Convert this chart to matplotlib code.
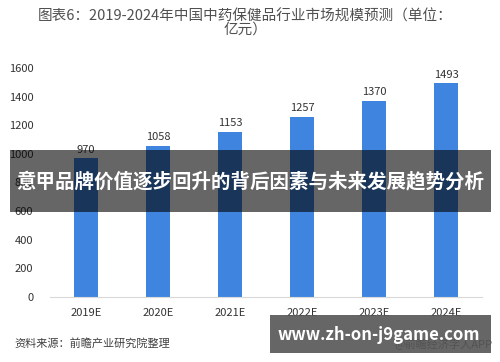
import matplotlib
matplotlib.use("Agg")
import matplotlib.pyplot as plt
from matplotlib.patches import Rectangle

plt.rcParams['font.family'] = ['Noto Sans CJK SC', 'DejaVu Sans']

years = ['2019E', '2020E', '2021E', '2022E', '2023E', '2024E']
values = [970, 1058, 1153, 1257, 1370, 1493]
yticks = [0, 200, 400, 600, 800, 1000, 1200, 1400, 1600]

title = '图表6：2019-2024年中国中药保健品行业市场规模预测（单位：\n亿元）'
source = '资料来源：前瞻产业研究院整理'
banner = '意甲品牌价值逐步回升的背后因素与未来发展趋势分析'
site = 'www.zh-on-j9game.com'

fig = plt.figure(figsize=(5, 3.62), dpi=100)
ax = fig.add_axes([0.1, 0.1796, 0.864, 0.6326])

x = range(len(years))
ax.bar(x, values, width=0.32, color='#3f85e0')
for xi, v in zip(x, values):
    ax.text(xi, v + 25, str(v), ha='center', va='bottom', fontsize=8, color='#333333')

ax.set_xlim(-0.5, len(years) - 0.5)
ax.set_ylim(0, 1600)
ax.set_yticks(yticks)
ax.set_xticks(list(x))
ax.set_xticklabels(years)
ax.tick_params(axis='both', length=0, labelsize=8, colors='#333333')
ax.tick_params(axis='y', pad=12)
ax.tick_params(axis='x', pad=8)
for s in ['top', 'right', 'left']:
    ax.spines[s].set_visible(False)
ax.spines['bottom'].set_color('#d9d9d9')

fig.text(0.49, 0.975, title, ha='center', va='top', fontsize=10.5, color='#505050',
         linespacing=0.9)
fig.text(0.028, 0.05, source, ha='left', va='center', fontsize=8, color='#404040',
         style='italic')
fig.text(0.985, 0.05, '@前瞻经济学人APP', ha='right', va='center', fontsize=8,
         color='#404040')

# dark overlay banner
fig.patches.append(Rectangle((0.02, 1 - 212 / 362), 0.962, 62 / 362,
                             transform=fig.transFigure, facecolor='black',
                             edgecolor='none', alpha=0.6, zorder=5))
fig.text(0.5, 1 - 181 / 362, banner, ha='center', va='center', fontsize=14,
         color='white', fontweight='bold', zorder=6)

fig.patches.append(Rectangle((0.54, 1 - 353 / 362), 0.442, 38 / 362,
                             transform=fig.transFigure, facecolor='#555555',
                             edgecolor='none', alpha=0.9, zorder=5))
fig.text(0.758, 1 - 335 / 362, site, ha='center', va='center', fontsize=12,
         color='white', fontweight='bold', zorder=6)

fig.savefig('out.png', dpi=100)
